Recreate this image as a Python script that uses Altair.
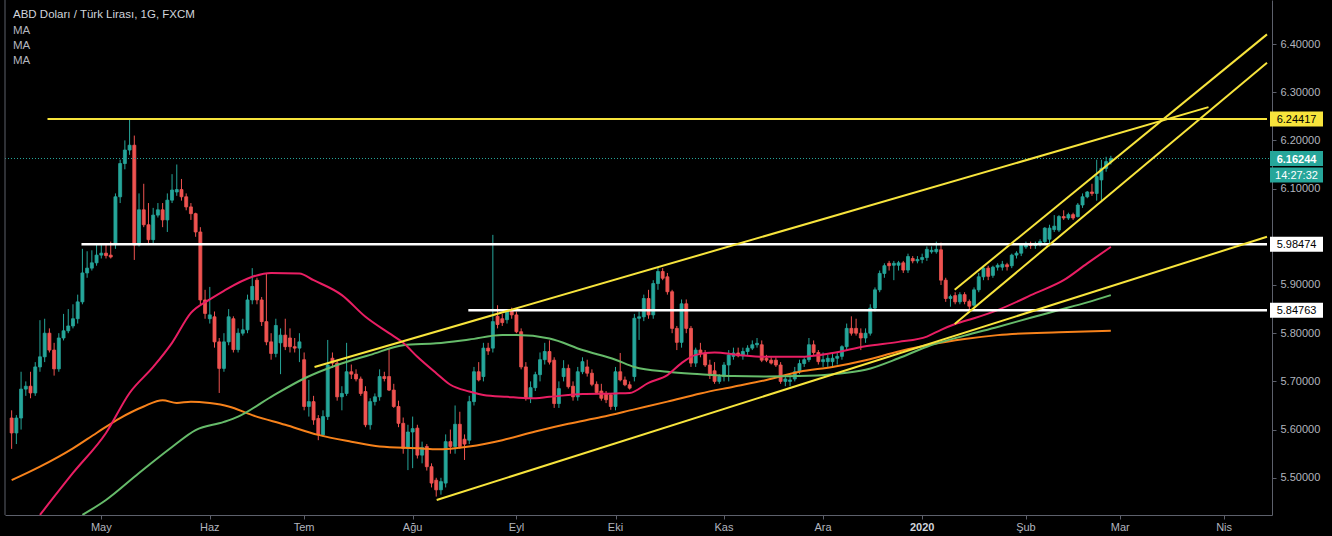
import altair as alt
import pandas as pd

# ---------------- data ----------------
# bar index = trading-day index, bar 0 = 1 May 2019; first bar (-19) = 4 Apr 2019
first_bar = -19

opens = [
    # Apr
    5.624, 5.593, 5.624, 5.684, 5.690, 5.676, 5.730, 5.751, 5.800, 5.765, 5.726, 5.790, 5.805, 5.815, 5.830, 5.865, 5.925, 5.935, 5.946,
    # May
    5.962, 5.966, 5.962, 5.985, 6.083, 6.152, 6.180, 6.190, 5.983, 6.056, 6.025, 5.994, 6.045, 6.056, 6.035, 6.076, 6.093, 6.098, 6.083, 6.062, 6.048, 6.010, 5.869,
    # Jun
    5.830, 5.834, 5.782, 5.727, 5.782, 5.830, 5.766, 5.800, 5.807, 5.869, 5.910, 5.869, 5.824, 5.782, 5.758, 5.780, 5.796, 5.790, 5.772, 5.769,
    # Jul
    5.745, 5.648, 5.658, 5.623, 5.589, 5.627, 5.748, 5.738, 5.668, 5.675, 5.720, 5.715, 5.705, 5.679, 5.610, 5.658, 5.668, 5.710, 5.710, 5.682, 5.648, 5.613, 5.561,
    # Aug
    5.595, 5.603, 5.547, 5.565, 5.523, 5.495, 5.475, 5.489, 5.575, 5.565, 5.611, 5.580, 5.578, 5.658, 5.720, 5.710, 5.769, 5.769, 5.835, 5.830, 5.828, 5.846,
    # Sep
    5.838, 5.803, 5.730, 5.665, 5.687, 5.714, 5.745, 5.762, 5.744, 5.654, 5.710, 5.727, 5.690, 5.668, 5.720, 5.730, 5.717, 5.694, 5.680, 5.675, 5.672,
    # Oct
    5.648, 5.720, 5.703, 5.693, 5.710, 5.831, 5.834, 5.872, 5.838, 5.903, 5.928, 5.917, 5.886, 5.810, 5.781, 5.861, 5.810, 5.738, 5.765, 5.758, 5.734, 5.722, 5.700,
    # Nov
    5.710, 5.734, 5.752, 5.759, 5.753, 5.762, 5.769, 5.776, 5.776, 5.748, 5.744, 5.744, 5.734, 5.700, 5.700, 5.705, 5.720, 5.737, 5.745, 5.776, 5.760,
    # Dec
    5.741, 5.741, 5.741, 5.748, 5.752, 5.772, 5.810, 5.810, 5.800, 5.790, 5.800, 5.852, 5.890, 5.924, 5.945, 5.941, 5.941, 5.946, 5.931, 5.955, 5.950,
    # Jan
    5.953, 5.957, 5.969, 5.969, 5.973, 5.910, 5.872, 5.878, 5.865, 5.880, 5.866, 5.858, 5.890, 5.917, 5.935, 5.920, 5.937, 5.937, 5.942, 5.940, 5.962, 5.966,
    # Feb
    5.979, 5.986, 5.982, 5.984, 5.990, 5.995, 6.015, 6.014, 6.042, 6.039, 6.046, 6.042, 6.066, 6.083, 6.093, 6.090, 6.118, 6.142, 6.156,
]

highs = [
    5.640, 5.630, 5.720, 5.700, 5.720, 5.740, 5.827, 5.830, 5.810, 5.780, 5.800, 5.840, 5.850, 5.860, 5.880, 5.975, 5.970, 5.972, 5.985,
    5.985, 5.985, 5.990, 6.090, 6.160, 6.200, 6.244, 6.210, 6.090, 6.110, 6.070, 6.060, 6.070, 6.070, 6.090, 6.130, 6.150, 6.120, 6.090, 6.070, 6.050, 6.020, 5.890,
    5.896, 5.845, 5.790, 5.800, 5.850, 5.835, 5.810, 5.830, 5.880, 5.935, 5.915, 5.875, 5.925, 5.800, 5.830, 5.810, 5.830, 5.810, 5.790, 5.800,
    5.760, 5.703, 5.670, 5.630, 5.640, 5.786, 5.760, 5.745, 5.690, 5.780, 5.735, 5.725, 5.710, 5.690, 5.665, 5.675, 5.725, 5.720, 5.769, 5.695, 5.660, 5.625, 5.610,
    5.627, 5.610, 5.575, 5.570, 5.530, 5.500, 5.500, 5.590, 5.600, 5.650, 5.637, 5.590, 5.670, 5.730, 5.740, 5.780, 5.780, 6.004, 5.858, 5.840, 5.850, 5.853,
    5.845, 5.810, 5.740, 5.700, 5.720, 5.760, 5.780, 5.785, 5.750, 5.700, 5.744, 5.735, 5.700, 5.730, 5.750, 5.745, 5.725, 5.700, 5.695, 5.680, 5.675,
    5.730, 5.759, 5.710, 5.700, 5.840, 5.845, 5.880, 5.890, 5.910, 5.937, 5.935, 5.925, 5.890, 5.815, 5.870, 5.870, 5.815, 5.770, 5.780, 5.765, 5.745, 5.740, 5.715,
    5.740, 5.765, 5.770, 5.770, 5.770, 5.775, 5.785, 5.790, 5.785, 5.755, 5.750, 5.750, 5.740, 5.710, 5.710, 5.730, 5.745, 5.750, 5.790, 5.785, 5.765,
    5.760, 5.755, 5.760, 5.760, 5.775, 5.820, 5.835, 5.830, 5.810, 5.810, 5.860, 5.895, 5.930, 5.945, 5.950, 5.950, 5.950, 5.950, 5.965, 5.960, 5.960,
    5.965, 5.980, 5.980, 5.990, 5.988, 5.915, 5.880, 5.885, 5.885, 5.885, 5.870, 5.895, 5.925, 5.940, 5.940, 5.940, 5.945, 5.950, 5.946, 5.965, 5.970, 5.985,
    5.990, 5.990, 5.990, 5.995, 6.020, 6.025, 6.045, 6.045, 6.055, 6.050, 6.050, 6.070, 6.090, 6.095, 6.110, 6.160, 6.160, 6.166, 6.168,
]

lows = [
    5.560, 5.570, 5.600, 5.670, 5.665, 5.670, 5.720, 5.740, 5.760, 5.712, 5.720, 5.785, 5.800, 5.810, 5.820, 5.860, 5.915, 5.930, 5.940,
    5.955, 5.955, 5.955, 5.975, 6.070, 6.140, 6.170, 5.952, 5.980, 6.020, 5.985, 5.985, 6.040, 6.020, 6.010, 6.070, 6.085, 6.075, 6.055, 6.035, 6.000, 5.860, 5.830,
    5.820, 5.770, 5.676, 5.720, 5.775, 5.760, 5.760, 5.795, 5.800, 5.860, 5.860, 5.815, 5.775, 5.745, 5.750, 5.715, 5.765, 5.760, 5.760, 5.740,
    5.640, 5.627, 5.610, 5.578, 5.585, 5.620, 5.728, 5.660, 5.640, 5.670, 5.705, 5.700, 5.670, 5.605, 5.600, 5.650, 5.660, 5.700, 5.680, 5.645, 5.605, 5.550, 5.516,
    5.520, 5.540, 5.530, 5.515, 5.480, 5.461, 5.465, 5.480, 5.550, 5.550, 5.560, 5.537, 5.570, 5.650, 5.700, 5.700, 5.755, 5.760, 5.810, 5.815, 5.820, 5.830,
    5.800, 5.725, 5.660, 5.655, 5.680, 5.700, 5.735, 5.735, 5.645, 5.645, 5.700, 5.685, 5.660, 5.660, 5.715, 5.710, 5.690, 5.675, 5.660, 5.655, 5.641,
    5.640, 5.700, 5.690, 5.683, 5.700, 5.786, 5.825, 5.830, 5.830, 5.890, 5.910, 5.880, 5.800, 5.765, 5.770, 5.800, 5.730, 5.730, 5.750, 5.730, 5.705, 5.695, 5.695,
    5.700, 5.700, 5.745, 5.750, 5.745, 5.755, 5.765, 5.770, 5.740, 5.740, 5.735, 5.730, 5.695, 5.690, 5.690, 5.700, 5.715, 5.730, 5.740, 5.755, 5.735,
    5.730, 5.730, 5.730, 5.735, 5.745, 5.765, 5.795, 5.795, 5.765, 5.780, 5.795, 5.845, 5.885, 5.915, 5.930, 5.910, 5.930, 5.925, 5.925, 5.945, 5.945,
    5.945, 5.950, 5.965, 5.965, 5.900, 5.865, 5.855, 5.860, 5.860, 5.860, 5.845, 5.855, 5.885, 5.910, 5.910, 5.915, 5.930, 5.930, 5.930, 5.935, 5.955, 5.960,
    5.975, 5.975, 5.975, 5.980, 5.985, 5.980, 6.010, 6.010, 6.035, 6.035, 6.035, 6.040, 6.060, 6.080, 6.085, 6.075, 6.076, 6.135, 6.150,
]

closes = [
    5.593, 5.624, 5.684, 5.690, 5.676, 5.730, 5.751, 5.800, 5.765, 5.726, 5.790, 5.805, 5.815, 5.830, 5.865, 5.925, 5.935, 5.946, 5.962,
    5.966, 5.961, 5.958, 6.083, 6.152, 6.180, 6.190, 5.983, 6.056, 6.025, 5.994, 6.045, 6.056, 6.035, 6.076, 6.097, 6.098, 6.083, 6.062, 6.048, 6.010, 5.869, 5.841,
    5.838, 5.782, 5.727, 5.782, 5.834, 5.766, 5.800, 5.807, 5.869, 5.897, 5.869, 5.824, 5.782, 5.758, 5.816, 5.796, 5.772, 5.772, 5.769, 5.782,
    5.648, 5.658, 5.620, 5.589, 5.627, 5.734, 5.738, 5.668, 5.675, 5.720, 5.715, 5.705, 5.675, 5.610, 5.658, 5.668, 5.710, 5.706, 5.682, 5.648, 5.613, 5.561, 5.595,
    5.602, 5.547, 5.563, 5.523, 5.489, 5.475, 5.492, 5.575, 5.565, 5.611, 5.565, 5.570, 5.658, 5.720, 5.703, 5.769, 5.763, 5.824, 5.818, 5.822, 5.846, 5.838,
    5.803, 5.730, 5.665, 5.687, 5.714, 5.745, 5.762, 5.740, 5.654, 5.685, 5.727, 5.689, 5.668, 5.720, 5.741, 5.717, 5.694, 5.677, 5.665, 5.662, 5.648,
    5.720, 5.703, 5.693, 5.686, 5.831, 5.834, 5.872, 5.838, 5.903, 5.928, 5.914, 5.886, 5.810, 5.781, 5.861, 5.810, 5.738, 5.765, 5.758, 5.734, 5.712, 5.700, 5.710,
    5.734, 5.755, 5.759, 5.753, 5.762, 5.769, 5.776, 5.779, 5.744, 5.744, 5.738, 5.734, 5.700, 5.705, 5.703, 5.720, 5.737, 5.745, 5.776, 5.760, 5.741,
    5.745, 5.748, 5.748, 5.752, 5.772, 5.810, 5.800, 5.800, 5.790, 5.800, 5.852, 5.890, 5.924, 5.940, 5.940, 5.945, 5.946, 5.931, 5.959, 5.950, 5.953,
    5.957, 5.974, 5.972, 5.974, 5.910, 5.872, 5.876, 5.865, 5.880, 5.866, 5.856, 5.890, 5.917, 5.935, 5.918, 5.937, 5.941, 5.943, 5.938, 5.962, 5.966, 5.983,
    5.986, 5.982, 5.986, 5.990, 6.018, 6.018, 6.022, 6.042, 6.039, 6.046, 6.039, 6.066, 6.083, 6.093, 6.090, 6.125, 6.142, 6.156, 6.16244,
]

# moving averages read at sample bars
ma_red_bars = [-13, -6, 1, 6, 11, 15, 19, 23, 26, 32, 36, 42, 45, 51, 56, 61, 64, 67, 71, 74, 78, 81, 86, 91, 95,
               102, 109, 112, 116, 120, 123, 126, 130, 135, 141, 148, 155, 162, 169, 175, 178, 181, 185, 190, 198, 204, 209, 214]
ma_red_vals = [5.423, 5.510, 5.593, 5.676, 5.730, 5.780, 5.842, 5.870, 5.888, 5.917, 5.925, 5.924, 5.910, 5.879, 5.834, 5.800, 5.780,
               5.751, 5.717, 5.693, 5.679, 5.672, 5.668, 5.665, 5.668, 5.674, 5.675, 5.676, 5.697, 5.713, 5.738, 5.755, 5.760, 5.755,
               5.751, 5.751, 5.759, 5.773, 5.782, 5.793, 5.807, 5.819, 5.831, 5.848, 5.883, 5.910, 5.945, 5.979]

ma_green_bars = [-4, 1, 8, 15, 20, 26, 29, 36, 43, 50, 57, 64, 71, 78, 85, 88, 95, 102, 109, 113, 120, 127, 134, 141,
                 148, 155, 162, 169, 175, 183, 190, 197, 203, 209, 214]
ma_green_vals = [5.423, 5.454, 5.510, 5.564, 5.599, 5.616, 5.627, 5.668, 5.706, 5.734, 5.755, 5.775, 5.779, 5.787, 5.796,
                 5.796, 5.789, 5.765, 5.745, 5.730, 5.720, 5.715, 5.711, 5.710, 5.711, 5.715, 5.724, 5.748, 5.772, 5.795,
                 5.813, 5.832, 5.848, 5.864, 5.879]

ma_orange_bars = [-19, -13, -6, -1, 4, 9, 13, 16, 19, 23, 27, 32, 39, 46, 53, 59, 68, 71, 78, 85, 92, 99, 106, 113,
                  120, 127, 134, 141, 148, 155, 162, 169, 176, 183, 190, 203, 214]
ma_orange_vals = [5.495, 5.523, 5.561, 5.593, 5.624, 5.648, 5.661, 5.655, 5.658, 5.655, 5.648, 5.630, 5.610, 5.589, 5.575,
                  5.565, 5.561, 5.559, 5.565, 5.578, 5.596, 5.612, 5.626, 5.642, 5.658, 5.675, 5.689, 5.703, 5.720, 5.730,
                  5.744, 5.762, 5.777, 5.788, 5.796, 5.802, 5.805]

# hand-drawn levels and trend lines (bar, price)
level_yellow = 6.24417
level_white_hi = 5.98474
level_white_lo = 5.84763
last_price = 6.16244
countdown = "14:27:32"

h_start_bars = [-11.4, -4.2, 77.8]
trend_x1 = [45.2, 71.1, 180.9, 180.9]
trend_y1 = [5.730, 5.454, 5.890, 5.819]
trend_x2 = [234.7, 247.1, 247.1, 247.1]
trend_y2 = [6.269, 6.000, 6.420, 6.361]

month_bars = [0, 23, 43, 66, 88, 109, 132, 153, 174, 196, 216, 238]
month_labels = ["May", "Haz", "Tem", "Ağu", "Eyl", "Eki", "Kas", "Ara", "2020", "Şub", "Mar", "Nis"]
month_bold = [False, False, False, False, False, False, False, False, True, False, False, False]
price_ticks = [5.5, 5.6, 5.7, 5.8, 5.9, 6.0, 6.1, 6.2, 6.3, 6.4]

title_text = "ABD Doları / Türk Lirası, 1G, FXCM"
ma_texts = ["MA", "MA", "MA"]

# ---------------- styling ----------------
W, H = 1267, 515
X_DOMAIN = [-19.35, 247.1]
Y_DOMAIN = [5.4228, 6.4913]
PX_PER_PRICE = 482.0
UP, DOWN = "#26a69a", "#ef5350"
AXIS_GRAY = "#5d606b"
TEXT_GRAY = "#b2b5be"
YELLOW = "#f7e43c"
WHITE = "#ffffff"
FONT = "Liberation Sans"

xs = alt.Scale(domain=X_DOMAIN, nice=False, zero=False)
ys = alt.Scale(domain=Y_DOMAIN, nice=False, zero=False)

x_axis = alt.Axis(
    values=month_bars, labels=False, title=None, grid=False,
    tickColor=AXIS_GRAY, domainColor=AXIS_GRAY, tickSize=4,
)
# the 6.00000 label sits under the 5.98474 price tag in the reference, so it is left blank
y_axis = alt.Axis(
    orient="right", values=price_ticks, title=None, grid=False,
    labelExpr="abs(datum.value - 6) < 0.001 ? '' : format(datum.value, '.5f')",
    labelColor=TEXT_GRAY, labelFontSize=11, labelFont=FONT,
    tickColor=AXIS_GRAY, domainColor=AXIS_GRAY, tickSize=4, labelPadding=4,
    labelFlush=False, labelOverlap=False,
)


def X(field):
    return alt.X(field, scale=xs, axis=x_axis)


def Y(field):
    return alt.Y(field, scale=ys, axis=y_axis)


n = len(closes)
candles = pd.DataFrame({
    "bar": list(range(first_bar, first_bar + n)),
    "o": opens, "h": highs, "l": lows, "c": closes,
})

updown = alt.condition("datum.c >= datum.o", alt.value(UP), alt.value(DOWN))

wicks = alt.Chart(candles).mark_rule(strokeWidth=1, clip=True).encode(
    x=X("bar:Q"), y=Y("l:Q"), y2="h:Q", color=updown,
)
bodies = alt.Chart(candles).mark_bar(size=3, strokeWidth=0.8, clip=True).encode(
    x=X("bar:Q"), y=Y("o:Q"), y2="c:Q", fill=updown, stroke=updown,
)


def ma_line(bars, vals, color):
    d = pd.DataFrame({"bar": bars, "v": vals})
    return alt.Chart(d).mark_line(color=color, strokeWidth=2, clip=True, interpolate="monotone").encode(
        x=X("bar:Q"), y=Y("v:Q"),
    )


ma_orange = ma_line(ma_orange_bars, ma_orange_vals, "#f7821b")
ma_green = ma_line(ma_green_bars, ma_green_vals, "#66bb6a")
ma_red = ma_line(ma_red_bars, ma_red_vals, "#e91e63")

last_line = alt.Chart(pd.DataFrame({"p": [last_price]})).mark_rule(
    color=UP, strokeWidth=1, strokeDash=[1, 2]
).encode(y=Y("p:Q"))


def hline(start_bar, price, color, width):
    d = pd.DataFrame({"x1": [start_bar], "x2": [X_DOMAIN[1]], "p": [price]})
    return alt.Chart(d).mark_rule(color=color, strokeWidth=width, clip=True).encode(
        x=X("x1:Q"), x2="x2:Q", y=Y("p:Q"),
    )


h_yellow = hline(h_start_bars[0], level_yellow, YELLOW, 2)
h_white1 = hline(h_start_bars[1], level_white_hi, WHITE, 2.5)
h_white2 = hline(h_start_bars[2], level_white_lo, WHITE, 2.5)

trend_df = pd.DataFrame({"x1": trend_x1, "y1": trend_y1, "x2": trend_x2, "y2": trend_y2})
trends = alt.Chart(trend_df).mark_rule(color=YELLOW, strokeWidth=2, clip=True).encode(
    x=X("x1:Q"), x2="x2:Q", y=Y("y1:Q"), y2="y2:Q",
)

HALF = 7.5 / PX_PER_PRICE  # half tag height in price units


def tag(price, text, fill, tcolor, shift_px=0, weight="normal"):
    off = shift_px / PX_PER_PRICE
    d = pd.DataFrame({"p": [price], "t": [text]})
    base = alt.Chart(d).transform_calculate(
        top="datum.p - %f + %f" % (off, HALF),
        bot="datum.p - %f - %f" % (off, HALF),
        mid="datum.p - %f" % off,
    )
    r = base.mark_rect(fill=fill).encode(
        x=alt.value(W - 2), x2=alt.value(W + 51),
        y=Y("top:Q"), y2="bot:Q",
    )
    t = base.mark_text(color=tcolor, fontSize=11, font=FONT, fontWeight=weight, baseline="middle",
                       align="center", dy=1).encode(
        x=alt.value(W + 24.5), y=Y("mid:Q"), text="t:N",
    )
    return r + t


tags = (
    tag(level_yellow, "%.5f" % level_yellow, YELLOW, "#000000")
    + tag(last_price, "%.5f" % last_price, UP, "#ffffff", 0, "bold")
    + tag(last_price, countdown, UP, "#ffffff", 16.5)
    + tag(level_white_hi, "%.5f" % level_white_hi, WHITE, "#000000")
    + tag(level_white_lo, "%.5f" % level_white_lo, WHITE, "#000000")
)

months = pd.DataFrame({"bar": month_bars, "label": month_labels, "bold": month_bold})
month_text = alt.Chart(months).transform_filter("!datum.bold").mark_text(
    color=TEXT_GRAY, fontSize=11, font=FONT, baseline="middle", align="center"
).encode(x=X("bar:Q"), y=alt.value(H + 13), text="label:N")
month_text_bold = alt.Chart(months).transform_filter("datum.bold").mark_text(
    color="#d1d4dc", fontSize=11, font=FONT, fontWeight="bold", baseline="middle", align="center"
).encode(x=X("bar:Q"), y=alt.value(H + 13), text="label:N")

title_mark = alt.Chart(pd.DataFrame({"t": [title_text]})).mark_text(
    align="left", baseline="alphabetic", color="#d1d4dc", fontSize=11.5, font=FONT
).encode(x=alt.value(8), y=alt.value(18), text="t:N")

ma_labels = []
for k, txt in enumerate(ma_texts):
    ma_labels.append(
        alt.Chart(pd.DataFrame({"t": [txt]})).mark_text(
            align="left", baseline="alphabetic", color=TEXT_GRAY, fontSize=11.5, font=FONT
        ).encode(x=alt.value(8), y=alt.value(34 + 15 * k), text="t:N")
    )

left_border = alt.Chart(pd.DataFrame({"a": [0]})).mark_rule(color=AXIS_GRAY, strokeWidth=1).encode(
    x=alt.value(0), y=alt.value(0), y2=alt.value(H)
)

chart = alt.layer(
    wicks, bodies, ma_orange, ma_green, ma_red, last_line,
    h_white1, h_white2, h_yellow, trends, tags, month_text, month_text_bold,
    title_mark, *ma_labels, left_border,
).properties(
    width=W, height=H,
    padding={"left": 5, "top": 0, "right": 60, "bottom": 21},
    autosize=alt.AutoSizeParams(type="none"),
    background="#000000",
).configure_view(stroke=None)

chart.save("out.html", embed_options={"renderer": "svg", "actions": False})
